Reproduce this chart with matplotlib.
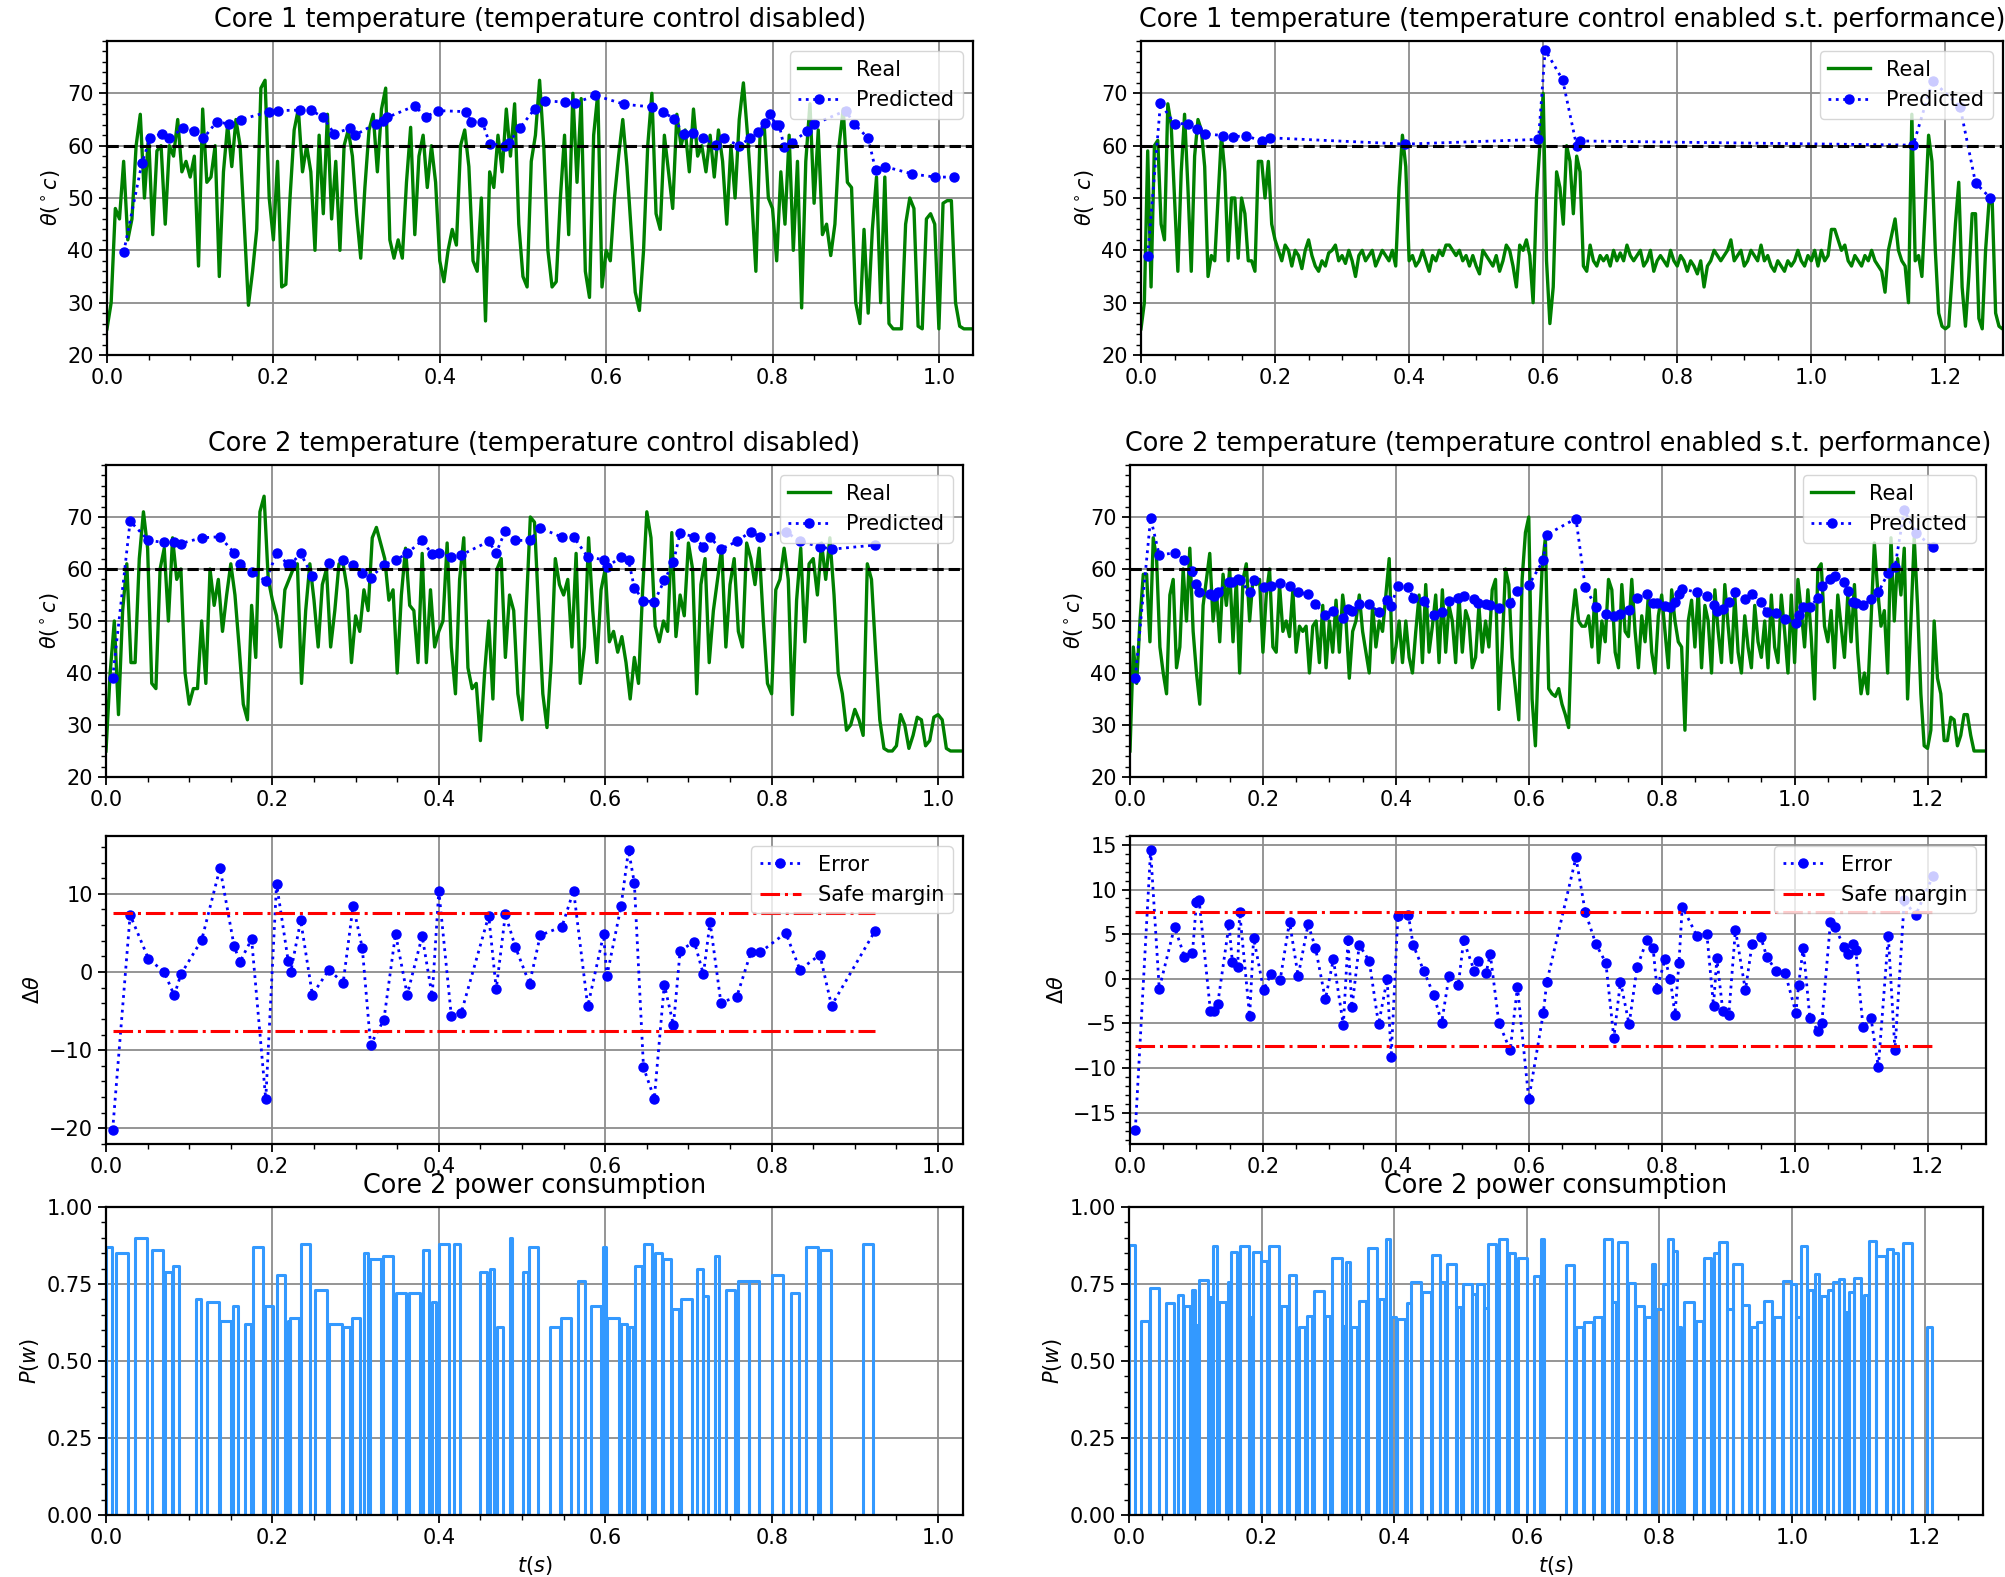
import numpy as np
import matplotlib
matplotlib.use('Agg')
import matplotlib.pyplot as plt

W, H = 2006, 1577
DT = 0.005          # sampling step of the measured temperature traces (s)
LIMIT = 60          # temperature limit (dashed line)
SAFE_MARGIN = 7.5

# ---------------- core 1, temperature control disabled ----------------
real_c1_off = [25, 30, 48, 46, 57, 42, 46, 60, 66, 50,
               62, 43, 59, 60, 45, 60, 58, 65, 55, 57,
               54, 58, 37, 67, 53, 54, 60, 35, 55, 64,
               56, 65, 60, 45, 29.5, 36, 44, 71, 72.5, 50,
               42, 57, 33, 33.5, 50, 63, 67, 55, 60, 55,
               40, 62, 47, 66, 46, 57, 40, 60, 63, 58,
               47, 38.5, 52, 63, 66, 55, 67, 71, 42, 38.5,
               42, 38.5, 53, 63.5, 43, 58, 62, 52, 60, 53,
               38, 34, 40, 44, 41, 60, 63, 56, 38, 36,
               50, 26.5, 55, 52, 62, 55, 67, 58, 68, 45,
               35, 33, 57, 62, 72.5, 60, 40, 33, 34, 50,
               62, 43, 70, 53, 69, 36, 31, 62, 70, 33,
               40, 38, 50, 58, 65, 56, 44, 32, 28.5, 40,
               60, 70, 47, 44, 62, 55, 48, 66, 60, 63,
               55, 67, 58, 60, 55, 62, 54, 63, 57, 45,
               60, 50, 65, 72, 62, 50, 36, 62, 64, 50,
               48, 38, 55, 45, 62, 40, 57, 29, 57, 68,
               49, 63, 43, 45, 39, 45, 60, 67, 53, 52,
               30, 26, 44, 28, 44, 54, 30, 54, 26, 25,
               25, 25, 45, 50, 48, 25.5, 25, 46, 47, 45,
               25, 49, 49.5, 49.5, 30, 25.5, 25, 25, 25]
pred_c1_off_t = [0.020, 0.042, 0.052, 0.066, 0.075, 0.091, 0.105, 0.116, 0.132, 0.147,
                 0.161, 0.195, 0.206, 0.232, 0.245, 0.260, 0.273, 0.292, 0.298, 0.323,
                 0.332, 0.337, 0.370, 0.383, 0.398, 0.431, 0.438, 0.451, 0.460, 0.478,
                 0.483, 0.496, 0.514, 0.527, 0.550, 0.562, 0.587, 0.622, 0.655, 0.668,
                 0.682, 0.693, 0.704, 0.716, 0.732, 0.742, 0.760, 0.773, 0.783, 0.791,
                 0.797, 0.804, 0.808, 0.814, 0.823, 0.842, 0.850, 0.888, 0.898, 0.915,
                 0.924, 0.935, 0.968, 0.995, 1.018]
pred_c1_off = [39.6, 56.7, 61.5, 62.3, 61.5, 63.3, 62.8, 61.4, 64.6, 64.1,
               65.0, 66.5, 66.7, 66.8, 66.8, 65.4, 62.3, 63.3, 62.0, 64.2,
               64.7, 65.4, 67.6, 65.5, 66.7, 66.5, 64.6, 64.6, 60.4, 59.9,
               60.6, 63.3, 67.0, 68.6, 68.3, 68.1, 69.6, 67.9, 67.4, 66.5,
               65.1, 62.3, 62.5, 61.5, 60.1, 61.5, 59.9, 61.5, 62.6, 64.4,
               66.0, 64.0, 64.0, 59.7, 60.6, 62.8, 64.1, 66.7, 64.2, 61.4,
               55.3, 56.0, 54.6, 54.0, 54.0]

# ---------------- core 1, temperature control enabled ----------------
real_c1_on = [25, 30, 59, 33, 60, 61, 45, 42, 68, 64,
              50, 36, 55, 66, 52, 36, 58, 65, 63, 56,
              35, 39, 38, 50, 62, 55, 38, 50, 50, 38.5,
              50, 47, 38, 38, 36, 57, 57, 50, 57, 45,
              42, 40, 38, 41, 40, 37, 40, 39, 36.5, 40,
              42, 39, 37, 36, 38, 37, 39.5, 40, 41, 38,
              39, 37.5, 40, 38, 35, 39, 40, 38, 39, 40,
              37, 38.5, 40, 39, 38, 40, 37, 52, 62, 56,
              38, 39, 37, 38, 40, 38, 36, 39, 38, 40,
              39, 41, 41, 40, 39, 40, 38, 39, 37, 39,
              37, 35.5, 40, 39, 38, 37, 39, 36, 38, 41,
              40, 37, 33, 41, 40, 42, 39, 30, 50, 60,
              70, 38, 26, 33, 55, 52, 45, 60, 57, 47,
              58, 55, 37, 36, 41, 38, 37, 39, 38, 39,
              37, 40, 38, 39.5, 38, 41, 39, 38, 39, 40,
              37, 38, 40, 36, 38, 39, 38, 37, 40, 38,
              37, 39, 38, 36, 38, 37, 35.5, 38, 33, 37,
              38, 40, 39, 38, 39, 40, 42, 38, 39, 40,
              37, 38, 40, 39, 38, 41, 38, 39, 37, 36,
              38, 37, 36, 38, 37, 38, 40, 38, 37, 39,
              38, 40, 37, 40, 38, 39, 44, 44, 42, 40,
              41, 38, 37, 39, 38, 37, 39, 38, 40, 38,
              37, 36, 32, 40, 43, 46, 40, 38, 37, 30,
              66, 38, 39, 35, 48, 62, 57, 40, 28, 25.5,
              25, 25.5, 35, 45, 53, 33, 25.5, 35, 47, 47,
              27, 25, 40, 49, 49, 28, 25.5, 25, 25]
pred_c1_on_t = [0.010, 0.029, 0.050, 0.070, 0.084, 0.096, 0.123, 0.137, 0.156, 0.180,
                0.192, 0.394, 0.593, 0.603, 0.629, 0.650, 0.655, 1.152, 1.181, 1.222,
                1.245, 1.267]
pred_c1_on = [39.0, 68.1, 64.2, 64.2, 63.1, 62.3, 61.9, 61.7, 61.9, 60.9,
              61.5, 60.3, 61.2, 78.3, 72.6, 59.9, 60.9, 60.1, 72.4, 67.4,
              52.9, 50.0]

# ---------------- core 2, temperature control disabled ----------------
real_c2_off = [25, 40, 50, 32, 52, 61, 42, 42, 62, 71,
               64, 38, 37, 60, 64, 50, 66, 58, 60, 40,
               34, 37, 37, 50, 38, 60, 53, 58, 48, 55,
               61, 55, 45, 34, 31, 53, 43, 71, 74, 58,
               54, 51, 45, 56, 58, 60, 61, 38, 52, 61,
               54, 45, 57, 60, 45, 52, 61, 61, 56, 42,
               51, 48, 56, 52, 66, 68, 65, 62, 54, 56,
               40, 55, 64, 53, 52, 42, 63, 42, 56, 45,
               48, 50, 65, 45, 36, 58, 66, 41, 37, 38,
               27, 40, 50, 35, 60, 62, 43, 55, 52, 36,
               31, 52, 70, 69, 52, 36, 29.5, 42, 62, 57,
               55, 58, 45, 63, 38, 45, 66, 52, 42, 56,
               60, 46, 48, 44, 47, 42, 35, 43, 38, 56,
               71, 66, 49, 46, 50, 48, 67, 47, 55, 51,
               65, 60, 36, 57, 62, 42, 52, 58, 64, 45,
               57, 62, 48, 45, 65, 62, 57, 64, 50, 38,
               36, 56, 58, 64, 58, 32, 54, 64, 46, 61,
               62, 55, 65, 58, 66, 55, 40, 36, 29, 30,
               33, 31, 28, 61, 58, 44, 31, 25.5, 25, 25,
               26, 32, 30, 25.5, 28, 31.5, 31, 26, 27, 31.5,
               32, 31, 25.5, 25, 25, 25, 25]
t_c2_off = [0.008, 0.029, 0.051, 0.070, 0.082, 0.090, 0.115, 0.137, 0.154, 0.161,
            0.175, 0.192, 0.205, 0.219, 0.222, 0.234, 0.248, 0.268, 0.285, 0.297,
            0.308, 0.318, 0.334, 0.348, 0.362, 0.380, 0.392, 0.400, 0.415, 0.427,
            0.460, 0.469, 0.480, 0.492, 0.509, 0.522, 0.548, 0.562, 0.579, 0.598,
            0.602, 0.619, 0.628, 0.635, 0.646, 0.659, 0.671, 0.682, 0.690, 0.707,
            0.718, 0.726, 0.739, 0.758, 0.775, 0.786, 0.817, 0.834, 0.858, 0.872,
            0.924]
pred_c2_off = [39.1, 69.2, 65.5, 65.1, 65.1, 64.9, 66.0, 66.2, 63.1, 60.9,
               59.4, 57.7, 63.0, 60.9, 60.9, 63.0, 58.6, 61.2, 61.7, 60.7,
               59.3, 58.3, 60.8, 61.7, 63.0, 65.5, 62.8, 63.1, 62.3, 62.7,
               65.3, 63.1, 67.4, 65.5, 65.5, 67.9, 66.1, 66.2, 62.3, 61.8,
               60.4, 62.3, 61.7, 56.4, 53.9, 53.7, 57.8, 61.4, 66.9, 66.2,
               64.3, 66.1, 63.8, 65.3, 67.2, 66.2, 67.2, 65.3, 64.3, 63.8,
               64.6]
err_c2_off = [-20.2, 7.3, 1.7, 0.0, -3.0, -0.3, 4.1, 13.3, 3.3, 1.3,
              4.2, -16.3, 11.3, 1.4, 0.0, 6.6, -2.9, 0.3, -1.4, 8.5,
              3.1, -9.3, -6.1, 4.9, -2.9, 4.6, -3.1, 10.4, -5.6, -5.2,
              7.2, -2.2, 7.4, 3.2, -1.5, 4.7, 5.8, 10.4, -4.4, 4.8,
              -0.5, 8.4, 15.6, 11.4, -12.2, -16.2, -1.6, -6.8, 2.7, 3.9,
              -0.3, 6.4, -3.9, -3.2, 2.5, 2.5, 5.0, 0.3, 2.2, -4.3,
              5.2]

# ---------------- core 2, temperature control enabled ----------------
real_c2_on = [25, 45, 38, 50, 59, 59, 46, 66, 62, 45,
              40, 36, 55, 58, 41, 45, 60, 50, 64, 48,
              40, 34, 53, 58, 63, 50, 56, 46, 59, 53,
              60, 46, 58, 40, 58, 61, 50, 58, 57, 58,
              44, 55, 60, 45, 44, 57, 48, 50, 47, 56,
              44, 49, 48, 49, 40, 49, 50, 42, 53, 41,
              50, 44, 54, 44, 55, 50, 39, 48, 50, 55,
              48, 44, 40, 53, 45, 50, 48, 55, 62, 42,
              45, 50, 42, 50, 43, 40, 48, 55, 42, 57,
              44, 49, 55, 42, 56, 44, 53, 50, 42, 55,
              44, 52, 50, 41, 43, 53, 44, 50, 45, 56,
              58, 33, 45, 60, 57, 43, 37, 31, 58, 67,
              70, 35, 26, 45, 60, 66, 37, 36, 35.5, 37,
              34, 32, 29.5, 50, 56, 50, 49, 49, 51, 45,
              56, 42, 50, 46, 58, 56, 44, 41, 57, 48,
              47, 58, 48, 41, 51, 46, 55, 44, 40, 51,
              55, 48, 41, 56, 50, 46, 45, 29, 50, 54,
              45, 56, 41, 53, 50, 40, 56, 48, 42, 57,
              49, 42, 55, 44, 40, 51, 45, 41, 53, 46,
              43, 50, 41, 55, 45, 42, 55, 48, 40, 55,
              42, 58, 52, 45, 56, 47, 35, 60, 61, 49,
              46, 52, 41, 55, 49, 43, 55, 46, 57, 44,
              36, 40, 36, 50, 65, 56, 49, 52, 40, 66,
              50, 62, 55, 64, 35, 50, 66, 53, 36, 26,
              25.5, 29, 50, 39, 36, 27, 27, 31.5, 31, 26,
              28, 32, 32, 28, 25, 25, 25, 25, 25]
t_c2_on = [0.008, 0.031, 0.044, 0.067, 0.082, 0.094, 0.100, 0.104, 0.121, 0.126,
           0.132, 0.149, 0.154, 0.162, 0.165, 0.180, 0.186, 0.201, 0.212, 0.226,
           0.240, 0.253, 0.268, 0.279, 0.294, 0.306, 0.321, 0.328, 0.334, 0.345,
           0.360, 0.374, 0.387, 0.393, 0.403, 0.419, 0.426, 0.442, 0.457, 0.469,
           0.480, 0.494, 0.502, 0.518, 0.524, 0.536, 0.542, 0.555, 0.572, 0.583,
           0.600, 0.622, 0.627, 0.671, 0.685, 0.701, 0.716, 0.728, 0.738, 0.751,
           0.763, 0.778, 0.787, 0.793, 0.805, 0.813, 0.820, 0.826, 0.831, 0.853,
           0.868, 0.878, 0.883, 0.892, 0.901, 0.911, 0.926, 0.936, 0.949, 0.958,
           0.972, 0.986, 1.002, 1.006, 1.013, 1.023, 1.035, 1.041, 1.054, 1.061,
           1.074, 1.080, 1.088, 1.092, 1.103, 1.115, 1.126, 1.141, 1.151, 1.165,
           1.182, 1.208]
pred_c2_on = [39.1, 69.8, 62.7, 63.1, 61.8, 59.6, 57.1, 55.5, 55.2, 54.9,
              55.6, 57.5, 57.5, 58.1, 57.8, 55.6, 57.8, 56.5, 56.7, 57.3,
              56.8, 55.6, 55.1, 53.2, 51.1, 51.9, 50.5, 52.3, 51.9, 53.2,
              53.2, 51.8, 54.1, 52.9, 56.8, 56.5, 54.5, 53.9, 51.1, 51.8,
              53.9, 54.5, 54.9, 54.2, 53.4, 53.2, 53.1, 52.5, 53.4, 55.8,
              56.9, 61.7, 66.6, 69.7, 56.5, 52.7, 51.4, 51.0, 51.4, 52.1,
              54.4, 55.2, 53.4, 53.4, 52.9, 52.6, 53.6, 55.2, 56.2, 55.5,
              54.9, 53.1, 51.9, 52.3, 53.6, 55.5, 54.2, 55.2, 53.6, 51.8,
              51.6, 50.3, 49.7, 51.1, 52.6, 52.6, 54.5, 56.7, 58.1, 58.6,
              57.5, 55.8, 53.6, 53.4, 53.1, 54.2, 55.5, 59.3, 60.4, 71.3,
              67.0, 64.2]
err_c2_on = [-16.9, 14.4, -1.1, 5.8, 2.5, 2.9, 8.6, 8.8, -3.6, -3.6,
             -2.8, 6.1, 1.9, 1.3, 7.5, -4.2, 4.6, -1.2, 0.5, -0.1,
             6.4, 0.3, 6.1, 3.5, -2.3, 2.2, -5.2, 4.3, -3.2, 3.8,
             2.0, -5.1, 0.0, -8.8, 7.0, 7.1, 3.8, 0.9, -1.8, -4.9,
             0.3, -0.7, 4.3, 0.9, 2.0, 0.7, 2.8, -4.9, -8.0, -0.9,
             -13.5, -3.8, -0.4, 13.6, 7.5, 3.9, 1.8, -6.6, -0.3, -5.1,
             1.3, 4.4, 3.5, -1.1, 2.2, 0.0, -4.0, 1.8, 8.1, 4.8,
             5.0, -3.0, 2.3, -3.6, -4.0, 5.5, -1.3, 3.9, 4.7, 2.5,
             0.9, 0.6, -3.8, -0.7, 3.5, -4.4, -5.8, -4.9, 6.4, 5.8,
             3.6, 2.8, 3.9, 3.2, -5.4, -4.4, -9.9, 4.8, -8.0, 8.8,
             7.1, 11.5]

# ---------------- core 2 power, pulses (start, end, level) ----------------
pw_off_start = [0.0, 0.0123, 0.0354, 0.0554, 0.0708, 0.0808, 0.1077, 0.1208, 0.1369, 0.1531,
                0.1669, 0.1762, 0.1915, 0.2054, 0.2185, 0.2215, 0.2346, 0.2515, 0.2685, 0.2846,
                0.2962, 0.31, 0.3177, 0.3331, 0.3485, 0.3638, 0.3815, 0.3923, 0.40, 0.4177,
                0.45, 0.4615, 0.47, 0.4854, 0.5008, 0.5085, 0.5331, 0.5469, 0.5669, 0.5831,
                0.5969, 0.6023, 0.6192, 0.6285, 0.6354, 0.6462, 0.66, 0.67, 0.68, 0.6908,
                0.71, 0.7177, 0.7315, 0.7454, 0.7592, 0.7731, 0.8008, 0.8238, 0.8415, 0.8577,
                0.91]
pw_off_end = [0.0077, 0.0262, 0.0492, 0.0685, 0.0792, 0.0877, 0.1146, 0.1354, 0.15, 0.1592,
              0.1738, 0.1892, 0.2008, 0.2154, 0.2215, 0.2315, 0.2454, 0.2662, 0.2831, 0.2938,
              0.3054, 0.3154, 0.3308, 0.3446, 0.3608, 0.3769, 0.3877, 0.3969, 0.4123, 0.4254,
              0.4585, 0.4662, 0.4777, 0.4885, 0.507, 0.5192, 0.5454, 0.5592, 0.5754, 0.5946,
              0.6008, 0.6162, 0.6262, 0.6338, 0.6438, 0.6562, 0.6677, 0.6792, 0.6892, 0.7038,
              0.7177, 0.7238, 0.7369, 0.7562, 0.7731, 0.7854, 0.8138, 0.8323, 0.8562, 0.8708,
              0.9215]
pw_off_level = [0.87, 0.85, 0.90, 0.86, 0.79, 0.81, 0.70, 0.69, 0.63, 0.68,
                0.62, 0.87, 0.68, 0.78, 0.63, 0.64, 0.88, 0.73, 0.62, 0.61,
                0.64, 0.85, 0.83, 0.84, 0.72, 0.72, 0.86, 0.69, 0.88, 0.88,
                0.79, 0.80, 0.61, 0.90, 0.79, 0.87, 0.61, 0.64, 0.76, 0.68,
                0.87, 0.64, 0.62, 0.61, 0.81, 0.88, 0.85, 0.83, 0.67, 0.70,
                0.80, 0.71, 0.84, 0.73, 0.76, 0.76, 0.78, 0.72, 0.87, 0.86,
                0.88]

pw_on_start = [0.0, 0.018, 0.0316, 0.0557, 0.0733, 0.0828, 0.0944, 0.0994, 0.1054, 0.122,
               0.1265, 0.136, 0.1486, 0.1536, 0.1667, 0.1807, 0.1863, 0.1998, 0.2113, 0.2289,
               0.241, 0.256, 0.2685, 0.2791, 0.2962, 0.3062, 0.3228, 0.3278, 0.3353, 0.3464,
               0.3604, 0.3775, 0.387, 0.3956, 0.4046, 0.4197, 0.4257, 0.4418, 0.4573, 0.4694,
               0.4794, 0.495, 0.5035, 0.517, 0.5246, 0.5351, 0.5411, 0.5587, 0.5738, 0.5873,
               0.6114, 0.6215, 0.6592, 0.6742, 0.6857, 0.7018, 0.7158, 0.7284, 0.7369, 0.752,
               0.7646, 0.7782, 0.7881, 0.7947, 0.8047, 0.8123, 0.8198, 0.8273, 0.8363, 0.855,
               0.8675, 0.8775, 0.8825, 0.890, 0.9016, 0.9117, 0.9252, 0.9378, 0.9478, 0.9578,
               0.9729, 0.9869, 0.999, 1.0057, 1.0131, 1.0246, 1.0341, 1.0432, 1.0547, 1.0622,
               1.0708, 1.0808, 1.0858, 1.0934, 1.1084, 1.116, 1.127, 1.1431, 1.1516, 1.1677,
               1.2028]
pw_on_end = [0.009, 0.030, 0.0457, 0.0678, 0.0818, 0.0919, 0.0994, 0.1044, 0.1185, 0.1255,
             0.1325, 0.146, 0.1536, 0.1631, 0.1807, 0.1848, 0.1998, 0.2088, 0.2259, 0.239,
             0.2525, 0.2661, 0.2766, 0.2942, 0.3037, 0.3213, 0.3278, 0.3338, 0.3439, 0.3579,
             0.3745, 0.3845, 0.393, 0.4031, 0.4167, 0.4247, 0.4408, 0.4559, 0.4694, 0.477,
             0.4935, 0.501, 0.517, 0.5226, 0.5351, 0.5411, 0.5537, 0.5703, 0.5824, 0.5999,
             0.620, 0.6265, 0.6707, 0.6842, 0.6992, 0.7134, 0.7284, 0.7344, 0.7515, 0.7631,
             0.7771, 0.7881, 0.7932, 0.8047, 0.8123, 0.8198, 0.8258, 0.8324, 0.8514, 0.866,
             0.8775, 0.8825, 0.890, 0.9016, 0.9117, 0.9252, 0.9352, 0.9478, 0.9578, 0.9704,
             0.9855, 0.999, 1.0057, 1.0131, 1.0231, 1.0321, 1.0407, 1.0522, 1.0622, 1.0708,
             1.0783, 1.0858, 1.0934, 1.1034, 1.1145, 1.127, 1.1416, 1.1516, 1.1591, 1.1812,
             1.2104]
pw_on_level = [0.877, 0.631, 0.737, 0.688, 0.714, 0.68, 0.73, 0.618, 0.764, 0.707,
               0.874, 0.69, 0.755, 0.854, 0.874, 0.642, 0.854, 0.825, 0.874, 0.68,
               0.779, 0.612, 0.645, 0.728, 0.647, 0.835, 0.615, 0.823, 0.61, 0.695,
               0.867, 0.70, 0.897, 0.642, 0.636, 0.688, 0.755, 0.723, 0.844, 0.755,
               0.815, 0.674, 0.75, 0.717, 0.75, 0.671, 0.881, 0.895, 0.852, 0.836,
               0.777, 0.897, 0.811, 0.609, 0.626, 0.642, 0.895, 0.69, 0.885, 0.753,
               0.677, 0.642, 0.815, 0.669, 0.75, 0.895, 0.858, 0.612, 0.693, 0.629,
               0.833, 0.636, 0.852, 0.885, 0.669, 0.815, 0.682, 0.612, 0.626, 0.696,
               0.642, 0.76, 0.75, 0.642, 0.874, 0.731, 0.782, 0.71, 0.73, 0.757,
               0.766, 0.658, 0.723, 0.768, 0.714, 0.89, 0.841, 0.865, 0.852, 0.882,
               0.612]

xticks_off = [0.0, 0.2, 0.4, 0.6, 0.8, 1.0]
xticks_on = [0.0, 0.2, 0.4, 0.6, 0.8, 1.0, 1.2]

FS = 15
TITLE_FS = 18.4

fig = plt.figure(figsize=(W / 100.0, H / 100.0), dpi=100)


def panel(l, t, r, b):
    # pixel box (left, top, right, bottom) -> figure fraction
    ax = fig.add_axes([l / W, 1 - b / H, (r - l) / W, (b - t) / H])
    ax.minorticks_on()
    ax.grid(True, which='major', color='#8c8c8c', linewidth=1.3)
    ax.tick_params(which='major', labelsize=FS, length=6, width=1.3)
    ax.tick_params(which='minor', length=3.5, width=1.0)
    for s in ax.spines.values():
        s.set_linewidth(1.6)
    return ax


def temp_panel(ax, real, pt, pv, title, xmax, xticks):
    t = np.arange(len(real)) * DT
    ax.plot(t, real, color='green', lw=2.4, label='Real')
    ax.plot(pt, pv, ':', color='blue', marker='o', ms=6.5, lw=2.0, label='Predicted')
    ax.axhline(LIMIT, color='black', ls='--', lw=2.2)
    ax.set_xlim(0, xmax)
    ax.set_ylim(20, 80)
    ax.set_yticks(range(20, 80, 10))
    ax.set_xticks(xticks)
    ax.set_title(title, fontsize=TITLE_FS, pad=10)
    ax.set_ylabel(r'$\theta(^\circ c)$', fontsize=FS)
    ax.legend(loc='upper right', fontsize=FS)


def err_panel(ax, et, ev, xmax, xticks, ylim, yticks):
    ax.plot(et, ev, ':', color='blue', marker='o', ms=6.5, lw=2.0, label='Error')
    ax.plot([et[0], et[-1]], [SAFE_MARGIN, SAFE_MARGIN], 'r-.', lw=2.2, label='Safe margin')
    ax.plot([et[0], et[-1]], [-SAFE_MARGIN, -SAFE_MARGIN], 'r-.', lw=2.2)
    ax.set_xlim(0, xmax)
    ax.set_ylim(*ylim)
    ax.set_yticks(yticks)
    ax.set_xticks(xticks)
    ax.set_ylabel(r'$\Delta\theta$', fontsize=FS)
    ax.legend(loc='upper right', fontsize=FS)


def power_panel(ax, starts, ends, levels, xmax, xticks):
    xs, ys = [0.0], [0.0]
    for s, e, h in zip(starts, ends, levels):
        xs += [s, s, e, e]
        ys += [0.0, h, h, 0.0]
    xs.append(xmax)
    ys.append(0.0)
    ax.plot(xs, ys, color='#3399ff', lw=2.2)
    ax.set_xlim(0, xmax)
    ax.set_ylim(0, 1)
    ax.set_yticks([0.0, 0.25, 0.5, 0.75, 1.0])
    ax.set_xticks(xticks)
    ax.set_title('Core 2 power consumption', fontsize=TITLE_FS, pad=10)
    ax.set_ylabel('$P(w)$', fontsize=FS)
    ax.set_xlabel('$t(s)$', fontsize=FS)


ax = panel(107, 41, 973, 355)
temp_panel(ax, real_c1_off, pred_c1_off_t, pred_c1_off,
           'Core 1 temperature (temperature control disabled)', 1.041, xticks_off)
ax = panel(1141, 41, 2003, 355)
temp_panel(ax, real_c1_on, pred_c1_on_t, pred_c1_on,
           'Core 1 temperature (temperature control enabled s.t. performance)', 1.286, xticks_on)

ax = panel(106, 465, 963, 777)
temp_panel(ax, real_c2_off, t_c2_off, pred_c2_off,
           'Core 2 temperature (temperature control disabled)', 1.03, xticks_off)
ax = panel(1130, 465, 1986, 777)
temp_panel(ax, real_c2_on, t_c2_on, pred_c2_on,
           'Core 2 temperature (temperature control enabled s.t. performance)', 1.288, xticks_on)

ax = panel(106, 836, 963, 1144)
err_panel(ax, t_c2_off, err_c2_off, 1.03, xticks_off, (-22.0, 17.4), [-20, -10, 0, 10])
ax = panel(1130, 836, 1986, 1144)
err_panel(ax, t_c2_on, err_c2_on, 1.288, xticks_on, (-18.5, 16.0), [-15, -10, -5, 0, 5, 10, 15])

ax = panel(106, 1207, 963, 1515)
power_panel(ax, pw_off_start, pw_off_end, pw_off_level, 1.03, xticks_off)
ax = panel(1129, 1207, 1983, 1515)
power_panel(ax, pw_on_start, pw_on_end, pw_on_level, 1.288, xticks_on)

fig.savefig('out.png', dpi=100)
